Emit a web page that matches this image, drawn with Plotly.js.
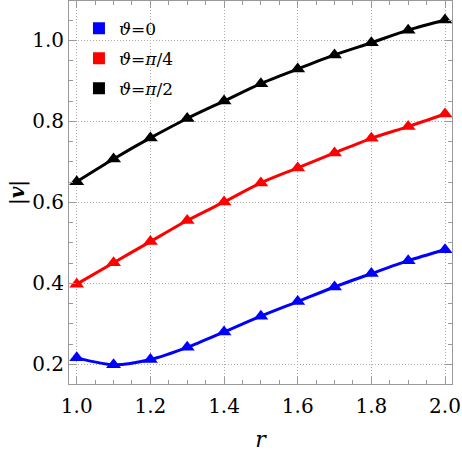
<!DOCTYPE html>
<html>
<head>
<meta charset="utf-8">
<script src="https://cdn.plot.ly/plotly-3.0.1.min.js"></script>
<style>
  body { margin: 0; }
  #chart { width: 462px; height: 455px; }
</style>
</head>
<body>
<div id="chart"></div>
<script>
const r = [1.0, 1.1, 1.2, 1.3, 1.4, 1.5, 1.6, 1.7, 1.8, 1.9, 2.0];
const vTheta0 = [0.216, 0.199, 0.212, 0.242, 0.280, 0.319, 0.355, 0.391, 0.424, 0.456, 0.483];
const vThetaQuarter = [0.398, 0.451, 0.503, 0.555, 0.601, 0.648, 0.685, 0.722, 0.758, 0.787, 0.818];
const vThetaHalf = [0.651, 0.707, 0.759, 0.807, 0.850, 0.893, 0.929, 0.964, 0.994, 1.025, 1.050];
const names = ["<i>ϑ</i>=0", "<i>ϑ</i>=<i>π</i>/4", "<i>ϑ</i>=<i>π</i>/2"];
const colors = ["#0000ff", "#ff0000", "#000000"];
const series = [vTheta0, vThetaQuarter, vThetaHalf];

const serif = "DejaVu Serif";

let traces = [];
// curves with triangle markers
series.forEach((vals, i) => {
    traces.push({
        x: r,
        y: vals,
        mode: 'lines+markers',
        line: { color: colors[i], width: 3, shape: 'spline', smoothing: 0.8 },
        marker: { symbol: 'triangle-up', size: 13, color: colors[i] },
        showlegend: false,
        hoverinfo: 'skip'
    });
});
// legend entries drawn as squares
series.forEach((vals, i) => {
    traces.push({
        x: [null],
        y: [null],
        mode: 'markers',
        marker: { symbol: 'square', size: 12, color: colors[i] },
        name: names[i],
        legendgroup: 'g' + i
    });
});

const axisCommon = {
    showline: true,
    linecolor: '#999999',
    linewidth: 1,
    mirror: 'ticks',
    ticks: 'inside',
    ticklen: 7,
    tickcolor: '#999999',
    showgrid: true,
    gridcolor: '#aaaaaa',
    griddash: '1px,2px',
    gridwidth: 1,
    zeroline: false,
    tickfont: { family: serif, size: 20, color: '#000' },
    minor: { dtick: 0.05, ticks: 'inside', ticklen: 4, tickcolor: '#999999', showgrid: false }
};

const layout = {
    width: 462,
    height: 455,
    margin: { l: 69, r: 10, t: 1, b: 71 },
    paper_bgcolor: '#fff',
    plot_bgcolor: '#fff',
    xaxis: Object.assign({}, axisCommon, {
        range: [0.979, 2.019],
        dtick: 0.2,
        tick0: 1.0,
        tickformat: '.1f',
        ticklabelstandoff: 4,
        title: { text: '<i>r</i>', font: { family: serif, size: 22, color: '#000' }, standoff: 14 }
    }),
    yaxis: Object.assign({}, axisCommon, {
        range: [0.1515, 1.097],
        dtick: 0.2,
        tick0: 0.2,
        tickformat: '.1f',
        title: { text: '|<b><i>v</i></b>|', font: { family: serif, size: 20, color: '#000' }, standoff: 2 }
    }),
    legend: {
        x: 0.026, y: 0.975, xanchor: 'left', yanchor: 'top',
        bgcolor: 'rgba(0,0,0,0)',
        font: { family: serif, size: 17, color: '#000' },
        itemwidth: 30,
        tracegroupgap: 5
    }
};

Plotly.newPlot('chart', traces, layout, { displayModeBar: false, staticPlot: true });
</script>
</body>
</html>
